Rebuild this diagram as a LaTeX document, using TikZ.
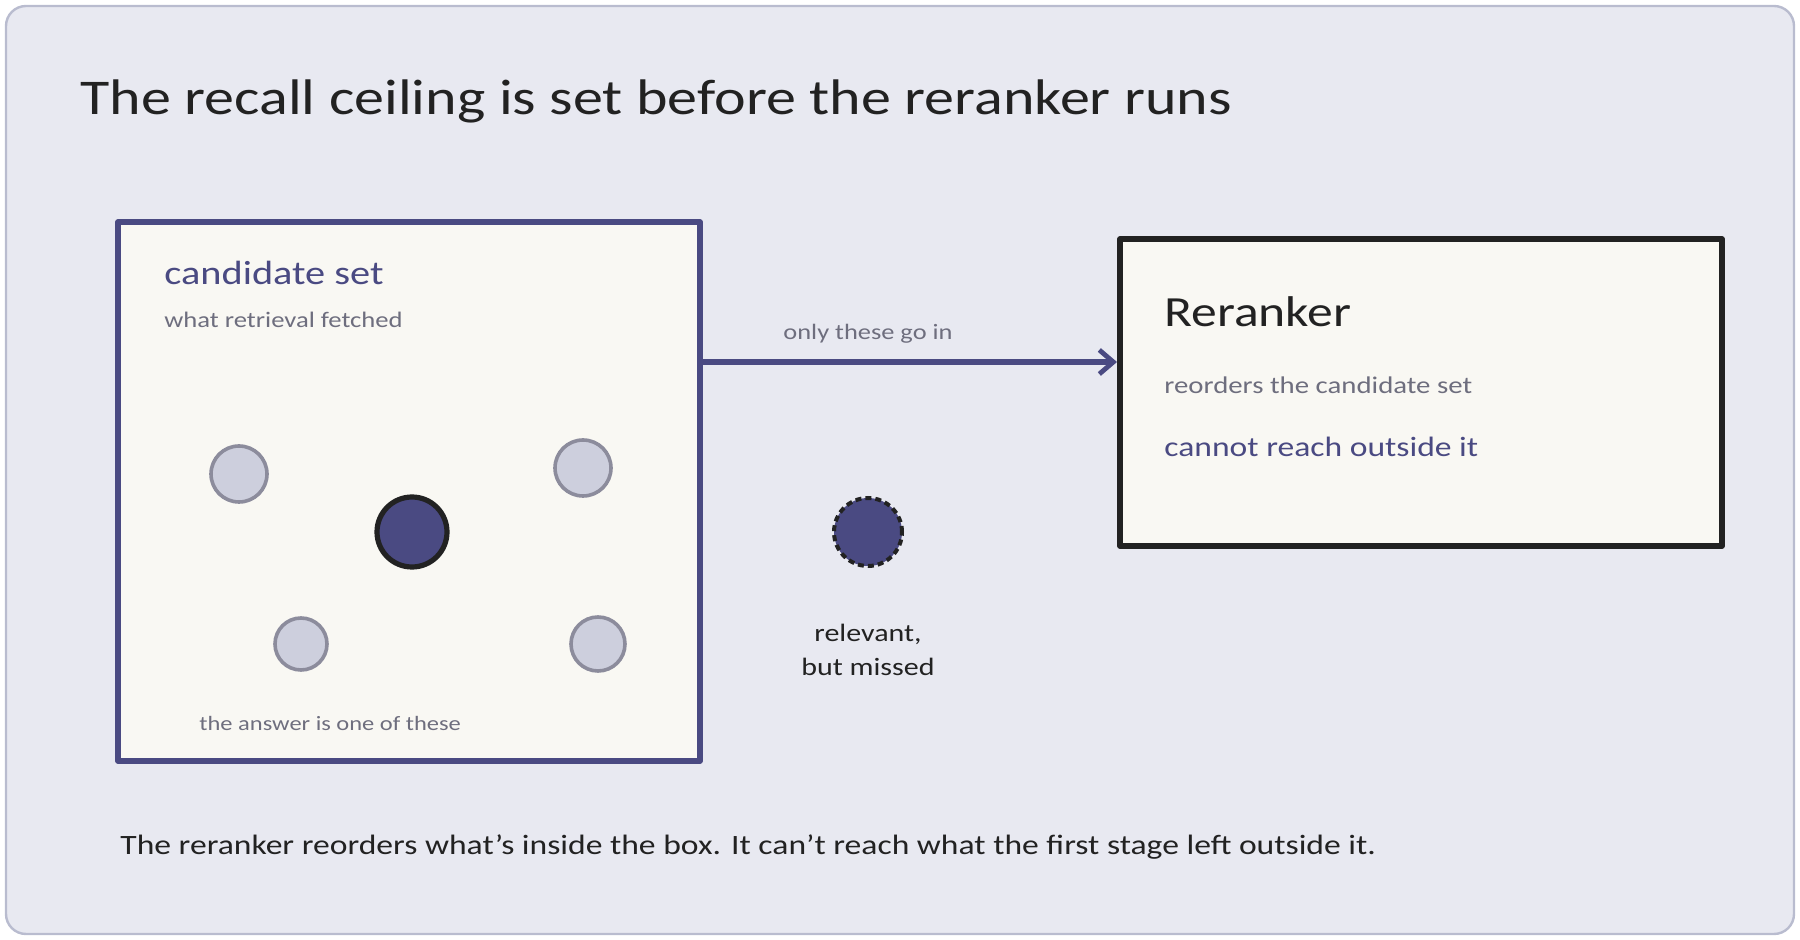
\documentclass[tikz,border=0pt]{standalone}
\usepackage{fontspec}
\setmainfont{Carlito}[FakeStretch=1.2]
\usetikzlibrary{arrows.meta}
\definecolor{bgpage}{HTML}{E8E9F1}
\definecolor{frameline}{HTML}{B9BCCF}
\definecolor{paper}{HTML}{F9F8F3}
\definecolor{indigo}{HTML}{4A4A82}
\definecolor{inkdark}{HTML}{222222}
\definecolor{softgray}{HTML}{6E6E7E}
\definecolor{dotfill}{HTML}{CDCFDD}
\definecolor{dotline}{HTML}{8C8C9C}
\tikzset{
  panel/.style={fill=paper, line width=2.6pt, line cap=round, line join=round},
  dotgray/.style={circle, fill=dotfill, draw=dotline, line width=1.8pt, inner sep=0pt},
  dotkey/.style={circle, fill=indigo, draw=inkdark, line width=2.6pt, inner sep=0pt},
  dotmiss/.style={circle, fill=indigo, draw=inkdark, line width=2pt, dash pattern=on 3pt off 2pt, inner sep=0pt},
  txt/.style={inner sep=0pt, anchor=west},
}
\begin{document}
\begin{tikzpicture}[x=0.5pt,y=-0.5pt]
\useasboundingbox (0,0) rectangle (1800,940);
\draw[fill=bgpage, draw=frameline, line width=1.2pt, rounded corners=10pt] (6,6) rectangle (1794,934);

% title
\node[txt, text=inkdark, font=\fontsize{25}{30}\selectfont] (title) at (80,101) {The recall ceiling is set before the reranker runs};

% candidate set box
\draw[panel, draw=indigo] (118,222) rectangle (700,761);
\coordinate (candR) at (700,362);
\node[txt, text=indigo, font=\fontsize{16.8}{20}\selectfont] (candtitle) at (164,273) {candidate set};
\node[txt, text=softgray, font=\fontsize{11.1}{14}\selectfont] (candsub) at (164,320) {what retrieval fetched};

\node[dotgray, minimum size=56pt/2] (g1) at (239,474) {};
\node[dotgray, minimum size=56pt/2] (g2) at (583,468) {};
\node[dotgray, minimum size=52pt/2] (g3) at (301,644) {};
\node[dotgray, minimum size=54pt/2] (g4) at (598,644) {};
\node[dotkey, minimum size=70pt/2] (key) at (412,532) {};

\node[txt, text=softgray, font=\fontsize{10.2}{13}\selectfont] (answer) at (199,723) {the answer is one of these};

% reranker box
\draw[panel, draw=inkdark] (1120,239) rectangle (1722,546);
\coordinate (rerL) at (1117,362);
\node[txt, text=inkdark, font=\fontsize{21.5}{25}\selectfont] (rertitle) at (1164,312) {Reranker};
\node[txt, text=softgray, font=\fontsize{12}{15}\selectfont] (rersub) at (1164,385) {reorders the candidate set};
\node[txt, text=indigo, font=\fontsize{14}{17}\selectfont] (rernote) at (1164,447) {cannot reach outside it};

% arrow
\draw[indigo, line width=2.6pt, line cap=round, -{Straight Barb[length=7pt, width=12pt, line width=2.4pt]}] (candR) -- (rerL);
\node[text=softgray, font=\fontsize{11}{13}\selectfont, inner sep=0pt] (arrowlbl) at (868,334) {only these go in};

% missed dot
\node[dotmiss, minimum size=68pt/2] (miss) at (868,532) {};
\node[text=inkdark, font=\fontsize{12.5}{17}\selectfont, align=center, inner sep=0pt] (misslbl) at (868,650) {relevant,\\but missed};

% bottom caption
\node[txt, text=inkdark, font=\fontsize{14}{16}\selectfont] (caption) at (120,847) {The reranker reorders what's inside the box. It can't reach what the first stage left outside it.};
\end{tikzpicture}
\end{document}
